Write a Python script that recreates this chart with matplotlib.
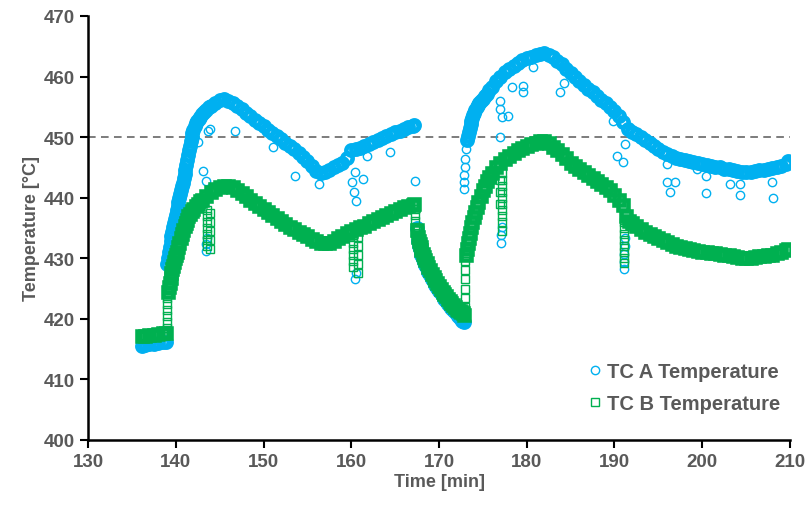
import numpy as np
import matplotlib.pyplot as plt

# TC A - main trace (time in min, temperature in degC)
a_time = [136.2, 136.5, 137.0, 137.5, 138.0, 138.5, 138.9,
          139.0, 139.2, 139.4, 139.6, 139.8, 140.0, 140.2, 140.4, 140.6, 140.8,
          141.0, 141.2, 141.4, 141.6, 141.8, 142.0, 142.3, 142.6, 143.0, 143.5,
          144.0, 144.5, 145.0, 145.5,
          146.0, 146.5, 147.0, 147.5, 148.0, 148.5, 149.0, 149.5, 150.0, 150.5,
          151.0, 151.5, 152.0, 152.5, 153.0, 153.5, 154.0, 154.5, 155.0, 155.5,
          156.0, 156.5, 157.0, 157.5, 158.0, 158.5, 159.0, 159.5, 160.0, 160.5,
          161.0, 161.5, 162.0, 162.5, 163.0, 163.5, 164.0, 164.5, 165.0, 165.5,
          166.0, 166.5, 167.0, 167.2,
          167.5, 167.6, 167.8, 168.0, 168.3, 168.6, 169.0, 169.4, 169.8, 170.2,
          170.6, 171.0, 171.4, 171.8, 172.2, 172.5, 172.8,
          173.2, 173.4, 173.6, 173.8, 174.0, 174.3, 174.6, 175.0, 175.5, 176.0,
          176.5, 177.0, 177.5, 178.0, 178.5, 179.0, 179.5, 180.0, 180.5, 181.0,
          181.5, 182.0, 182.5, 183.0, 183.5, 184.0, 184.5, 185.0, 185.5, 186.0,
          186.5, 187.0, 187.5, 188.0, 188.5, 189.0, 189.5, 190.0, 190.5, 191.0,
          191.5, 192.0, 192.5, 193.0, 193.5, 194.0, 194.5, 195.0, 195.5, 196.0,
          196.5, 197.0, 197.5, 198.0, 198.5, 199.0, 199.5, 200.0, 200.5, 201.0,
          201.5, 202.0, 202.5, 203.0, 203.5, 204.0, 204.5, 205.0, 205.5, 206.0,
          206.5, 207.0, 207.5, 208.0, 208.5, 209.0, 209.5, 209.8]
a_temp = [415.6, 415.7, 415.8, 415.9, 416.0, 416.1, 416.2,
          429.0, 431.0, 432.8, 434.3, 435.8, 437.2, 438.6, 439.9, 441.2, 442.5,
          443.9, 445.4, 447.0, 448.6, 450.0, 451.2, 452.3, 453.0, 453.8, 454.5,
          455.2, 455.7, 456.1, 456.3,
          456.0, 455.6, 455.1, 454.6, 454.0, 453.5, 452.9, 452.3, 451.8, 451.2,
          450.7, 450.2, 449.7, 449.1, 448.5, 448.0, 447.3, 446.7, 446.0, 445.2,
          444.4, 444.0, 444.2, 444.6, 445.0, 445.4, 445.8, 446.6, 447.8, 448.0,
          448.2, 448.5, 448.8, 449.2, 449.6, 449.9, 450.2, 450.5, 450.8, 451.0,
          451.3, 451.6, 451.8, 452.0,
          435.0, 432.9, 431.5, 430.5, 429.4, 428.4, 427.2, 426.1, 425.1, 424.2,
          423.3, 422.5, 421.8, 421.1, 420.5, 420.0, 419.4,
          449.5, 450.9, 452.1, 453.1, 454.0, 454.9, 455.6, 456.3, 457.2, 458.2,
          459.2, 460.0, 460.7, 461.3, 461.8, 462.3, 462.7, 463.0, 463.3, 463.6,
          463.8, 463.9, 463.6, 463.2, 462.6, 462.0, 461.3, 460.6, 459.9, 459.2,
          458.6, 458.0, 457.4, 456.8, 456.2, 455.7, 455.0, 454.3, 453.5, 452.5,
          451.4, 450.9, 450.5, 450.0, 449.5, 449.0, 448.6, 448.1, 447.6, 447.2,
          446.9, 446.6, 446.4, 446.2, 446.0, 445.9, 445.7, 445.6, 445.4, 445.3,
          445.1, 445.0, 444.8, 444.7, 444.5, 444.4, 444.3, 444.3, 444.3, 444.4,
          444.5, 444.6, 444.8, 444.9, 445.1, 445.3, 445.6, 446.0]

# TC A - extra readings on the steep stretches
a_steep_time = [139.1, 139.3, 139.5, 139.7, 139.9, 140.1, 140.3, 140.5, 140.7,
                140.9, 141.1, 141.3, 141.5, 141.7, 141.9, 142.15, 142.45, 142.8,
                143.25, 143.75,
                167.7, 167.9, 168.15, 168.45, 168.8, 169.2, 169.6, 170.0, 170.4,
                170.8, 171.2, 171.6, 172.0, 172.35, 172.65,
                173.3, 173.5, 173.7, 173.9, 174.15, 174.45, 174.8, 175.25, 175.75]
a_steep_temp = [430.0, 431.9, 433.6, 435.1, 436.5, 437.9, 439.3, 440.6, 441.9,
                443.2, 444.6, 446.2, 447.8, 449.3, 450.6, 451.8, 452.7, 453.4,
                454.2, 454.9,
                432.1, 431.0, 429.9, 428.9, 427.8, 426.6, 425.6, 424.6, 423.7,
                422.9, 422.1, 421.4, 420.8, 420.2, 419.7,
                450.2, 451.5, 452.6, 453.6, 454.5, 455.3, 456.0, 456.8, 457.7]

# TC A - scattered readings
a_out_time = [172.8, 172.85, 172.9, 172.95, 173.0, 173.1,
              143.5, 143.5, 143.6, 160.4, 160.5,
              177.1, 177.1, 177.2, 191.1, 191.1, 191.1, 191.2, 191.2,
              143.7, 143.9, 142.5, 143.1, 143.5, 146.8, 151.1, 153.6, 156.3,
              160.1, 160.3, 160.5, 160.4, 161.3, 161.8, 164.4, 167.3,
              177.0, 177.0, 177.2, 177.9, 177.0, 178.3, 179.6, 179.6, 180.7,
              183.8, 184.2, 189.8, 190.3, 191.0, 191.2,
              196.0, 196.0, 196.9, 196.3, 199.4, 200.4, 200.4,
              203.2, 204.3, 204.3, 207.9, 208.1]
a_out_temp = [441.5, 442.6, 443.7, 445.0, 446.4, 448.0,
              431.2, 432.3, 433.4, 426.5, 427.6,
              432.5, 433.8, 435.2, 428.2, 429.4, 430.7, 432.0, 433.4,
              451.0, 451.4, 449.2, 444.4, 442.8, 451.0, 448.4, 443.6, 442.3,
              442.6, 440.9, 439.5, 444.3, 443.1, 446.9, 447.5, 442.8,
              456.0, 454.7, 453.4, 453.5, 450.0, 458.3, 458.5, 457.5, 461.6,
              457.5, 459.0, 452.7, 446.9, 445.9, 448.9,
              445.6, 442.6, 442.6, 441.0, 444.8, 443.6, 440.8,
              442.3, 442.3, 440.5, 442.6, 440.0]

# TC B - main trace
b_time = [136.2, 136.5, 137.0, 137.5, 138.0, 138.5, 138.9,
          139.1, 139.3, 139.5, 139.7, 139.9, 140.1, 140.4, 140.7, 141.0, 141.3,
          141.6, 142.0, 142.5, 143.0, 143.5, 144.0, 144.5, 145.0, 145.5,
          146.0, 146.5, 147.0, 147.5, 148.0, 148.5, 149.0, 149.5, 150.0, 150.5,
          151.0, 151.5, 152.0, 152.5, 153.0, 153.5, 154.0, 154.5, 155.0, 155.5,
          156.0, 156.5, 157.0, 157.5, 158.0, 158.5, 159.0, 159.5, 160.0, 160.5,
          161.0, 161.5, 162.0, 162.5, 163.0, 163.5, 164.0, 164.5, 165.0, 165.5,
          166.0, 166.5, 167.0, 167.2,
          167.6, 167.8, 168.0, 168.3, 168.6, 169.0, 169.4, 169.8, 170.2, 170.6,
          171.0, 171.4, 171.8, 172.2, 172.5, 172.9,
          173.1, 173.3, 173.5, 173.8, 174.1, 174.5, 175.0, 175.5, 176.0, 176.5,
          177.0, 177.5, 178.0, 178.5, 179.0, 179.5, 180.0, 180.5, 181.0, 181.5,
          182.0, 182.5, 183.0, 183.5, 184.0, 184.5, 185.0, 185.5, 186.0, 186.5,
          187.0, 187.5, 188.0, 188.5, 189.0, 189.5, 190.0, 190.5, 191.0, 191.3,
          191.6, 192.0, 192.5, 193.0, 193.5, 194.0, 194.5, 195.0, 195.5, 196.0,
          196.5, 197.0, 197.5, 198.0, 198.5, 199.0, 199.5, 200.0, 200.5, 201.0,
          201.5, 202.0, 202.5, 203.0, 203.5, 204.0, 204.5, 205.0, 205.5, 206.0,
          206.5, 207.0, 207.5, 208.0, 208.5, 209.0, 209.5, 209.8]
b_temp = [417.2, 417.25, 417.3, 417.4, 417.5, 417.6, 417.7,
          424.5, 426.0, 427.5, 428.8, 430.0, 431.0, 432.5, 434.0, 435.3, 436.4,
          437.3, 438.2, 439.0, 439.7, 440.3, 440.9, 441.4, 441.8, 442.0,
          442.0, 441.7, 441.2, 440.7, 440.2, 439.7, 439.1, 438.6, 438.1, 437.6,
          437.1, 436.6, 436.1, 435.6, 435.2, 434.8, 434.4, 434.0, 433.6, 433.2,
          432.9, 432.6, 432.5, 432.6, 432.9, 433.3, 433.7, 434.1, 434.5, 434.8,
          435.1, 435.4, 435.8, 436.2, 436.5, 436.8, 437.2, 437.5, 437.8, 438.1,
          438.4, 438.6, 438.8, 439.0,
          433.5, 432.3, 431.3, 430.2, 429.2, 428.0, 426.9, 425.9, 425.0, 424.1,
          423.3, 422.6, 422.0, 421.5, 421.1, 420.7,
          430.5, 432.5, 434.2, 436.0, 437.6, 439.3, 441.2, 442.8, 444.0, 445.0,
          445.8, 446.4, 446.9, 447.4, 447.8, 448.2, 448.5, 448.8, 449.1, 449.3,
          449.3, 449.0, 448.4, 447.8, 447.2, 446.6, 445.8, 445.3, 444.8, 444.3,
          443.8, 443.3, 442.8, 442.3, 441.8, 441.2, 440.5, 439.7, 438.8, 437.0,
          436.2, 435.8, 435.3, 434.8, 434.4, 434.0, 433.6, 433.3, 433.0, 432.7,
          432.4, 432.1, 431.9, 431.7, 431.5, 431.3, 431.2, 431.1, 431.0, 430.9,
          430.8, 430.7, 430.6, 430.5, 430.3, 430.2, 430.1, 430.0, 430.1, 430.2,
          430.3, 430.4, 430.5, 430.6, 430.8, 431.0, 431.3, 431.6]

# TC B - extra readings on the steep stretches
b_steep_time = [139.2, 139.4, 139.6, 139.8, 140.0, 140.25, 140.55, 140.85,
                141.15, 141.45, 141.8, 142.25, 142.75,
                167.5, 167.7, 167.9, 168.15, 168.45, 168.8, 169.2, 169.6, 170.0,
                170.4, 170.8, 171.2, 171.6, 172.0, 172.35, 172.7,
                173.2, 173.4, 173.65, 173.95, 174.3, 174.75, 175.25, 175.75]
b_steep_temp = [425.3, 426.8, 428.2, 429.4, 430.5, 431.8, 433.3, 434.7,
                435.9, 436.9, 437.8, 438.6, 439.4,
                434.7, 432.9, 431.8, 430.7, 429.7, 428.6, 427.4, 426.4, 425.4,
                424.5, 423.7, 422.9, 422.3, 421.7, 421.3, 420.9,
                431.5, 433.4, 435.1, 436.8, 438.5, 440.3, 442.0, 443.4]

# TC B - scattered readings
b_out_time = [139.0, 139.0, 139.0, 139.0, 139.0, 139.0,
              143.6, 143.6, 143.6, 143.6, 143.6, 143.6, 143.6,
              143.9, 143.9, 143.9, 143.9, 143.9,
              160.2, 160.2, 160.2, 160.2, 160.2, 160.2,
              160.8, 160.8, 160.8, 160.8, 160.8,
              167.3, 167.3, 167.3, 167.3, 167.3,
              173.0, 173.0, 173.0, 173.0, 173.0, 173.0,
              177.2, 177.2, 177.2, 177.2, 177.2, 177.2, 177.2, 177.2, 177.2, 177.2,
              176.9, 176.9, 176.9,
              191.1, 191.1, 191.1, 191.1, 191.1, 191.1, 191.1, 191.1]
b_out_temp = [418.5, 419.5, 420.5, 421.5, 422.5, 423.5,
              438.0, 437.0, 436.0, 435.0, 434.0, 433.0, 432.0,
              437.5, 436.0, 434.5, 433.0, 431.5,
              433.5, 432.5, 431.5, 430.5, 429.5, 428.5,
              433.5, 432.0, 430.5, 429.0, 427.5,
              438.2, 437.2, 436.2, 435.2, 434.2,
              422.0, 423.5, 425.0, 426.5, 428.0, 429.5,
              444.0, 443.0, 442.0, 441.0, 440.0, 439.0, 438.0, 437.0, 436.0, 434.5,
              443.0, 441.0, 439.0,
              436.0, 435.0, 434.0, 433.0, 432.0, 431.0, 430.0, 429.3]

limit = 450
blue = '#00B0F0'
green = '#00B050'
grey = '#595959'

plt.rcParams['font.family'] = ['Liberation Sans', 'DejaVu Sans']
plt.rcParams['font.weight'] = 'bold'

fig = plt.figure(figsize=(8.09, 5.10), dpi=100)
ax = fig.add_axes([0.1088, 0.1353, 0.8677, 0.8314])

ax.axhline(limit, color=grey, lw=1.1, ls=(0, (5, 3.5)), zorder=0)

band = dict(ls='none', mfc='none', mew=3.3)
ax.plot(a_time, a_temp, 'o', ms=7.4, mec=blue, **band)
ax.plot(a_steep_time, a_steep_temp, 'o', ms=7.4, mec=blue, **band)
ax.plot(a_out_time, a_out_temp, 'o', ms=6.0, mfc='none', mec=blue, mew=1.0)
ax.plot(b_time, b_temp, 's', ms=6.7, mec=green, **band)
ax.plot(b_steep_time, b_steep_temp, 's', ms=6.7, mec=green, **band)
ax.plot(b_out_time, b_out_temp, 's', ms=5.6, mfc='none', mec=green, mew=1.0)

# legend handles only
ax.plot([], [], 'o', ms=6, mfc='none', mec=blue, mew=1.0, label='TC A Temperature')
ax.plot([], [], 's', ms=5.5, mfc='none', mec=green, mew=1.0, label='TC B Temperature')
h, l = ax.get_legend_handles_labels()
ax.legend(h, l, loc='lower right', bbox_to_anchor=(1.012, 0.02), frameon=False,
          fontsize=14.5, handlelength=0.6, handletextpad=0.3, labelspacing=0.65,
          labelcolor=grey)

ax.set_xlim(130, 210)
ax.set_ylim(400, 470)
ax.set_xticks(np.arange(130, 211, 10))
ax.set_yticks(np.arange(400, 471, 10))
ax.tick_params(labelsize=13.5, colors='black', labelcolor=grey, width=1.5, length=6)
ax.set_xlabel('Time [min]', fontsize=13, color=grey, fontweight='bold', labelpad=2)
ax.set_ylabel('Temperature [°C]', fontsize=13, color=grey, fontweight='bold', labelpad=3)

for side in ['top', 'right']:
    ax.spines[side].set_visible(False)
for side in ['left', 'bottom']:
    ax.spines[side].set_linewidth(1.8)

fig.savefig('out.png', dpi=100)
